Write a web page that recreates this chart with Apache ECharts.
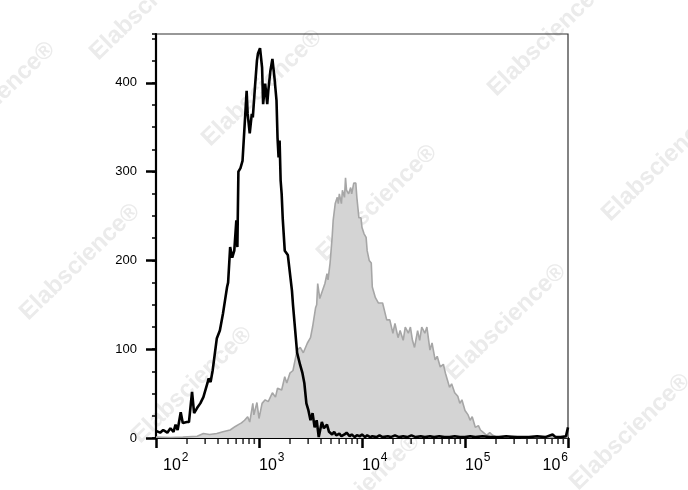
<!DOCTYPE html>
<html>
<head>
<meta charset="utf-8">
<script src="https://cdn.jsdelivr.net/npm/echarts@6.0.0/dist/echarts.min.js"></script>
<style>
  html, body { margin: 0; padding: 0; background: #fff; }
  #chart { width: 688px; height: 490px; }
</style>
</head>
<body>
<div id="chart"></div>
<script>
// unstained / isotype control (black outline), x = log10 of fluorescence
const ctrlLog = [2.00, 2.01, 2.04, 2.07, 2.11, 2.14, 2.17, 2.19, 2.21, 2.24, 2.26, 2.30, 2.32, 2.35, 2.37,
  2.40, 2.43, 2.46, 2.50, 2.51, 2.53, 2.55, 2.59, 2.62, 2.65, 2.67, 2.69, 2.70, 2.72, 2.74,
  2.76, 2.78, 2.79, 2.80, 2.82, 2.84, 2.88, 2.89, 2.91, 2.93, 2.94, 2.96, 2.98, 2.99, 3.01,
  3.03, 3.04, 3.06, 3.08, 3.09, 3.11, 3.13, 3.15, 3.17, 3.18, 3.19, 3.20, 3.21, 3.22, 3.23,
  3.25, 3.28, 3.32, 3.33, 3.37, 3.40, 3.42, 3.44, 3.46, 3.48, 3.50, 3.52, 3.54, 3.56, 3.58,
  3.61, 3.63, 3.66, 3.68, 3.71, 3.73, 3.75, 3.78, 3.80, 3.83, 3.85, 3.88, 3.90, 3.93, 3.95,
  3.98, 4.00, 4.03, 4.05, 4.08, 4.10, 4.14, 4.17, 4.20, 4.25, 4.28, 4.32, 4.36, 4.40, 4.44,
  4.48, 4.52, 4.57, 4.61, 4.66, 4.70, 4.75, 4.80, 4.85, 4.90, 4.95, 5.00, 5.05, 5.10, 5.17,
  5.25, 5.33, 5.40, 5.48, 5.55, 5.62, 5.70, 5.78, 5.85, 5.88, 5.93, 5.98, 5.995, 6.00];
const ctrlCount = [8, 9, 6, 9, 6, 11, 7, 15, 9, 29, 17, 18, 18, 52, 28,
  34, 39, 46, 62, 67, 63, 76, 112, 121, 140, 155, 170, 175, 215, 203,
  211, 245, 215, 300, 304, 312, 391, 365, 343, 365, 361, 394, 425, 433, 439,
  417, 376, 399, 376, 391, 413, 427, 406, 380, 338, 316, 335, 290, 275, 248,
  211, 206, 166, 150, 96, 82, 74, 62, 39, 31, 20, 28, 12, 20, 1,
  18, 11, 15, 7, 4, 7, 3, 5, 2, 4, 6, 2, 4, 1, 3,
  2, 4, 1, 3, 1, 2, 1, 3, 1, 2, 1, 3, 1, 2, 1,
  3, 1, 2, 1, 2, 1, 2, 1, 1, 2, 1, 1, 2, 1, 2,
  1, 1, 2, 1, 1, 1, 2, 1, 4, 1, 1, 2, 1, 12];

// stained sample (grey filled)
const stainLog = [2.00, 2.14, 2.26, 2.40, 2.46, 2.52, 2.59, 2.65, 2.72, 2.77, 2.80, 2.83, 2.86, 2.89, 2.91,
  2.94, 2.95, 2.98, 3.00, 3.03, 3.06, 3.09, 3.13, 3.16, 3.18, 3.22, 3.25, 3.27, 3.30, 3.33,
  3.37, 3.40, 3.43, 3.47, 3.50, 3.52, 3.55, 3.56, 3.57, 3.59, 3.64, 3.66, 3.67, 3.69, 3.71,
  3.72, 3.74, 3.76, 3.77, 3.78, 3.80, 3.81, 3.83, 3.84, 3.85, 3.87, 3.89, 3.90, 3.92, 3.94,
  3.95, 3.97, 3.99, 4.00, 4.02, 4.04, 4.05, 4.07, 4.09, 4.10, 4.13, 4.16, 4.20, 4.24, 4.27,
  4.30, 4.32, 4.35, 4.37, 4.40, 4.42, 4.45, 4.47, 4.49, 4.51, 4.54, 4.56, 4.58, 4.61, 4.63,
  4.66, 4.68, 4.71, 4.73, 4.76, 4.79, 4.81, 4.83, 4.85, 4.87, 4.90, 4.93, 4.95, 4.97, 5.00,
  5.03, 5.05, 5.07, 5.10, 5.13, 5.15, 5.18, 5.21, 5.24, 5.27, 5.31, 5.40, 5.48, 5.55, 5.65,
  5.75, 5.85, 5.95, 6.00];
const stainCount = [1, 0.5, 1, 2, 5, 4, 5, 7, 9, 13, 15, 17, 20, 24, 18,
  39, 26, 40, 22, 39, 43, 41, 51, 46, 56, 54, 69, 62, 73, 76,
  99, 102, 96, 107, 113, 125, 147, 150, 174, 157, 174, 185, 178, 197, 226,
  245, 264, 271, 264, 275, 264, 279, 271, 293, 279, 275, 282, 275, 287, 287,
  271, 248, 248, 237, 230, 226, 211, 200, 197, 170, 158, 152, 152, 133, 133,
  118, 129, 113, 121, 110, 125, 118, 125, 110, 102, 121, 110, 125, 118, 125,
  99, 107, 88, 92, 80, 83, 73, 65, 57, 61, 51, 47, 39, 43, 31,
  26, 20, 24, 12, 14, 9, 6, 3, 6, 3, 1, 1, 2, 0.5, 1,
  0.5, 1, 0.5, 0.5];

const xTickExp = [2, 3, 4, 5, 6];
const minorMultipliers = [2, 3, 4, 5, 6, 7, 8, 9];
const yTickLabels = [0, 100, 200, 300, 400];

const watermarks = [
  [150, 2], [-5, 100], [262, 88], [548, 38], [377, 203], [662, 163],
  [80, 262], [506, 322], [192, 385], [630, 432], [360, 492]
];

const toPairs = (logs, counts) => logs.map((v, i) => [Math.pow(10, v), counts[i]]);

const minorTicks = [];
xTickExp.slice(0, -1).forEach(e => {
  minorMultipliers.forEach(m => minorTicks.push([m * Math.pow(10, e), 0]));
});

const chart = echarts.init(document.getElementById('chart'), null, { renderer: 'canvas' });

const font = '"Liberation Sans", Arial, sans-serif';

const option = {
  animation: false,
  backgroundColor: '#fff',
  textStyle: { fontFamily: font },
  graphic: watermarks.map(p => ({
    type: 'text',
    x: p[0],
    y: p[1],
    rotation: 44 * Math.PI / 180,
    z: -10,
    style: {
      text: 'Elabscience®',
      fill: '#ebebeb',
      font: 'bold 24px ' + font,
      align: 'center',
      verticalAlign: 'middle'
    }
  })),
  grid: {
    left: 156,
    right: 120,
    top: 34,
    bottom: 52,
    show: true,
    borderColor: '#333',
    borderWidth: 1.2,
    backgroundColor: 'transparent'
  },
  xAxis: {
    type: 'log',
    logBase: 10,
    min: 100,
    max: 1e6,
    axisLine: { show: true, onZero: false, lineStyle: { color: '#000', width: 2.2 } },
    axisTick: { show: true, length: 10, lineStyle: { color: '#000', width: 2.5 } },
    splitLine: { show: false },
    axisLabel: {
      margin: 14,
      align: 'left',
      alignMinLabel: 'left',
      alignMaxLabel: 'right',
      color: '#000',
      formatter: (val, idx) => {
        const e = Math.round(Math.log10(val));
        return (idx === 0 ? '{gap|}' : '') + '{b|10}{s|' + e + '}';
      },
      rich: {
        gap: { width: 7 },
        b: { fontSize: 16, fontFamily: font, color: '#000', verticalAlign: 'bottom', lineHeight: 22 },
        s: { fontSize: 12, fontFamily: font, color: '#000', verticalAlign: 'top', lineHeight: 22, padding: [0, 0, 0, 1] }
      }
    }
  },
  yAxis: [{
    type: 'value',
    min: 0,
    max: 455,
    interval: 100,
    axisLine: { show: true, lineStyle: { color: '#000', width: 2.2 } },
    axisTick: { show: true, length: 10, lineStyle: { color: '#000', width: 2.5 } },
    splitLine: { show: false },
    axisLabel: {
      margin: 19,
      color: '#000',
      fontSize: 13,
      fontFamily: font,
      showMaxLabel: false,
      formatter: v => (yTickLabels.indexOf(v) >= 0 ? String(v) : '')
    }
  }, {
    type: 'value',
    min: 0,
    max: 455,
    interval: 25,
    position: 'left',
    axisLine: { show: false },
    axisTick: { show: true, length: 4, lineStyle: { color: '#000', width: 1.5 } },
    axisLabel: { show: false },
    splitLine: { show: false }
  }],
  series: [{
    name: 'stained',
    type: 'line',
    showSymbol: false,
    symbol: 'none',
    data: toPairs(stainLog, stainCount),
    lineStyle: { color: '#a6a6a6', width: 1.6 },
    areaStyle: { color: '#d4d4d4', opacity: 1 },
    z: 2
  }, {
    name: 'control',
    type: 'line',
    showSymbol: false,
    symbol: 'none',
    data: toPairs(ctrlLog, ctrlCount),
    lineStyle: { color: '#000', width: 2.6 },
    z: 3
  }, {
    name: 'minor ticks',
    type: 'scatter',
    silent: true,
    clip: false,
    data: minorTicks,
    symbol: 'rect',
    symbolSize: [1.6, 5],
    symbolOffset: [0, 3.5],
    itemStyle: { color: '#000' },
    z: 5
  }]
};

chart.setOption(option);
</script>
</body>
</html>
